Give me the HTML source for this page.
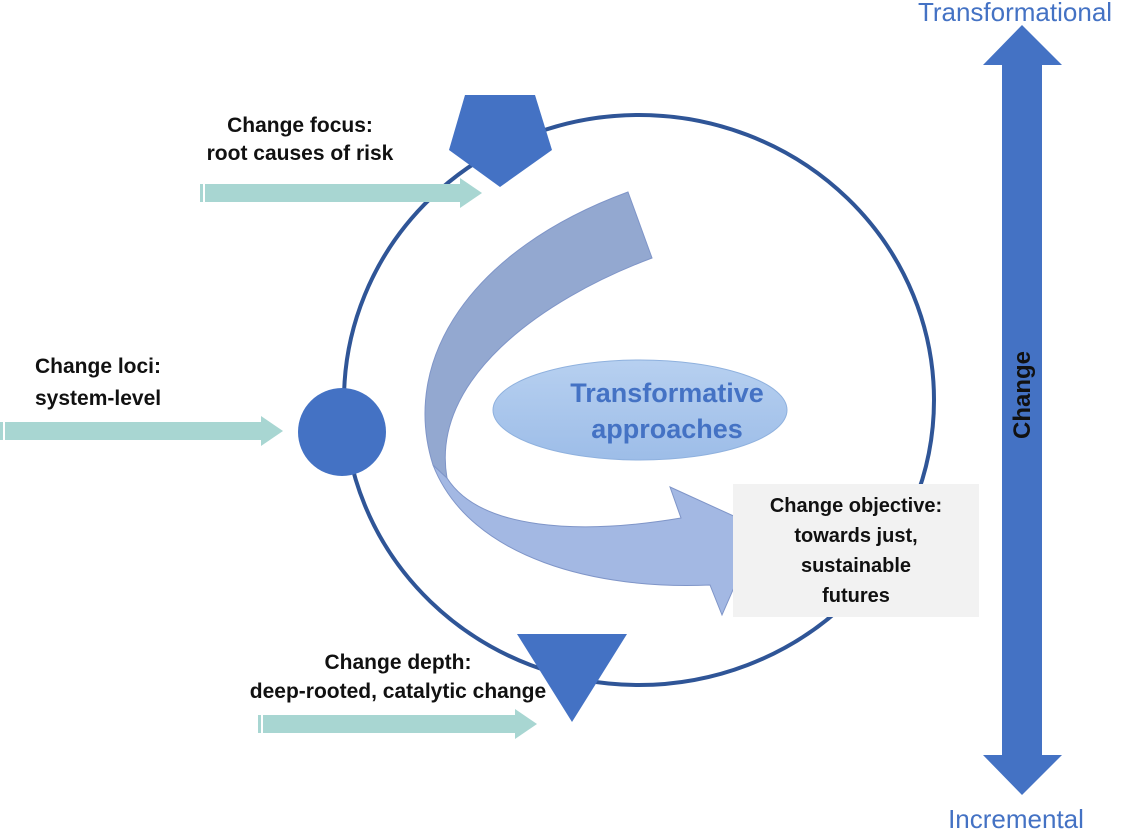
<!DOCTYPE html>
<html><head><meta charset="utf-8"><style>
html,body{margin:0;padding:0;background:#fff;}
svg{display:block;}
text{font-family:"Liberation Sans",sans-serif;}
</style></head><body>
<svg width="1125" height="831" viewBox="0 0 1125 831" xmlns="http://www.w3.org/2000/svg">
<defs>
<linearGradient id="eg" x1="0" y1="0" x2="0" y2="1">
<stop offset="0" stop-color="#b7d0f0"/><stop offset="1" stop-color="#9dbde8"/>
</linearGradient>
</defs>
<ellipse cx="639" cy="400" rx="295" ry="285" fill="none" stroke="#2f5597" stroke-width="4"/>
<ellipse cx="640" cy="410" rx="147" ry="50" fill="url(#eg)" stroke="#8fb1de" stroke-width="1"/>
<text x="667" y="402" text-anchor="middle" font-size="27" font-weight="bold" fill="#4472c4">Transformative</text>
<text x="667" y="438" text-anchor="middle" font-size="27" font-weight="bold" fill="#4472c4">approaches</text>
<path d="M433,465 C470,560 600,590 710,585 L722,615 L760,528 L670,487 L681,518 C580,535 480,530 447,478 Z" fill="#a3b8e3" stroke="#7f95c8" stroke-width="1"/>
<path d="M628,192 L652,258 C540,300 430,380 447,478 L433,465 C400,360 470,250 628,192 Z" fill="#93a8d0" stroke="#7f95c8" stroke-width="1"/>
<rect x="733" y="484" width="246" height="133" fill="#f2f2f2"/>
<g font-size="20" font-weight="bold" fill="#111" text-anchor="middle">
<text x="856" y="512">Change objective:</text>
<text x="856" y="542">towards just,</text>
<text x="856" y="572">sustainable</text>
<text x="856" y="602">futures</text>
</g>
<polygon points="465,95 535,95 552,150 500,187 449,150" fill="#4472c4"/>
<circle cx="342" cy="432" r="44" fill="#4472c4"/>
<polygon points="517,634 627,634 572,722" fill="#4472c4"/>
<g fill="#a8d6d2">
<rect x="200" y="184" width="3" height="18"/><rect x="205" y="184" width="255" height="18"/><polygon points="460,178 482,193 460,208"/>
<rect x="0" y="422" width="3" height="18"/><rect x="5" y="422" width="256" height="18"/><polygon points="261,416 283,431 261,446"/>
<rect x="258" y="715" width="3" height="18"/><rect x="263" y="715" width="252" height="18"/><polygon points="515,709 537,724 515,739"/>
</g>
<g font-size="21" font-weight="bold" fill="#111">
<text x="300" y="132" text-anchor="middle">Change focus:</text>
<text x="300" y="160" text-anchor="middle">root causes of risk</text>
<text x="35" y="373">Change loci:</text>
<text x="35" y="405">system-level</text>
<text x="398" y="669" text-anchor="middle">Change depth:</text>
<text x="398" y="698" text-anchor="middle">deep-rooted, catalytic change</text>
</g>
<polygon points="1022,25 1062,65 1042,65 1042,755 1062,755 1022,795 983,755 1002,755 1002,65 983,65" fill="#4472c4"/>
<text transform="translate(1030,395) rotate(-90)" text-anchor="middle" font-size="24" font-weight="bold" fill="#111">Change</text>
<text x="1015" y="21" text-anchor="middle" font-size="26" fill="#4472c4">Transformational</text>
<text x="1016" y="828" text-anchor="middle" font-size="26" fill="#4472c4">Incremental</text>
</svg>
</body></html>
